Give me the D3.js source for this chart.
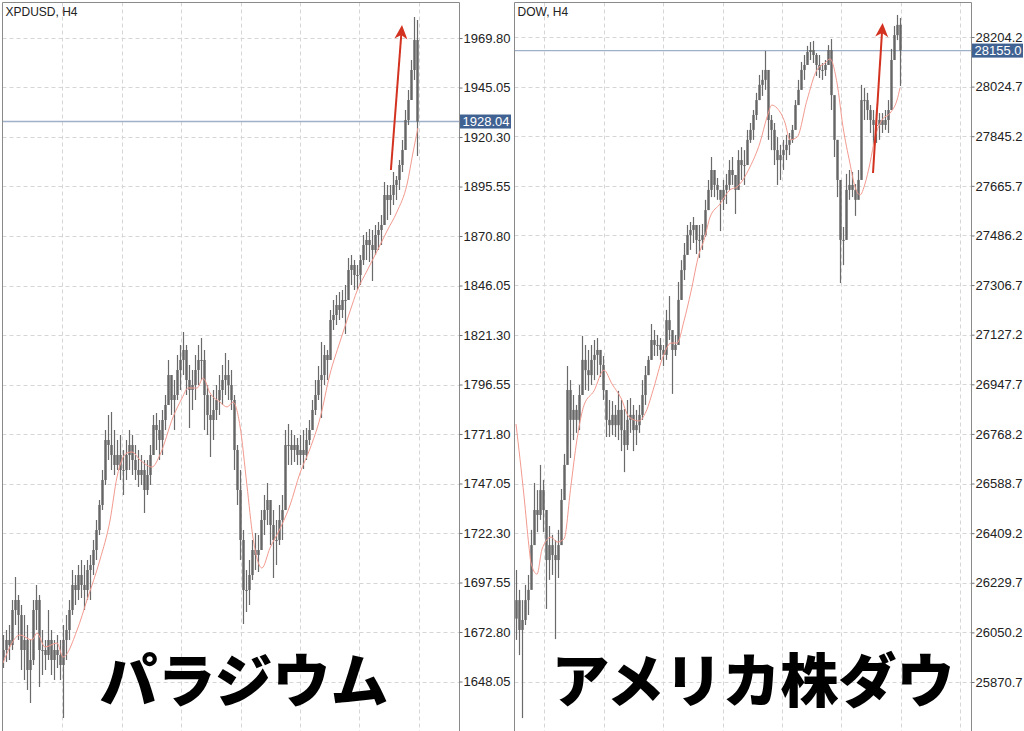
<!DOCTYPE html>
<html>
<head>
<meta charset="utf-8">
<script src="https://cdn.jsdelivr.net/npm/d3@7"></script>
<style>
    body { margin: 0; background: #fff; }
    svg { display: block; }
    .tick text { font-family: "Liberation Sans", Arial, sans-serif; font-size: 13px; fill: #222; }
    .tick line { stroke: #777; }
</style>
</head>
<body>
<svg id="chart" width="1024" height="731"></svg>
<script>
// XPDUSD H4
let leftTitle = "XPDUSD, H4"
let leftCaption = "パラジウム"
let leftTicks = [1969.80, 1945.05, 1920.30, 1895.55, 1870.80, 1846.05, 1821.30, 1796.55, 1771.80, 1747.05, 1722.30, 1697.55, 1672.80, 1648.05]
let leftBid = 1928.04
let leftOpen0 = 1660
let leftHigh = [1671.3, 1673.8, 1676.3, 1688.8, 1700.3, 1691.3, 1686.3, 1681.3, 1676.3, 1668.8,
    1688.8, 1696.3, 1691.3, 1673.8, 1668.8, 1683.8, 1673.8, 1668.8, 1671.3, 1668.8,
    1676.3, 1681.3, 1688.8, 1703.8, 1701.3, 1706.3, 1708.8, 1706.3, 1708.8, 1711.3,
    1718.8, 1728.8, 1738.8, 1753.8, 1773.8, 1781.3, 1782.8, 1773.8, 1768.8, 1771.3,
    1763.8, 1768.8, 1773.8, 1771.3, 1766.3, 1763.8, 1761.3, 1758.8, 1758.8, 1766.3,
    1781.3, 1782.3, 1778.8, 1783.8, 1791.3, 1808.8, 1801.3, 1798.8, 1811.3, 1816.3,
    1822.8, 1816.3, 1806.3, 1803.8, 1811.3, 1816.3, 1819.8, 1813.8, 1796.3, 1791.3,
    1793.8, 1796.3, 1801.3, 1806.3, 1812.3, 1808.8, 1803.8, 1791.3, 1766.3, 1753.8,
    1723.8, 1703.8, 1708.8, 1718.8, 1722.3, 1721.3, 1733.8, 1741.3, 1747.3, 1736.3,
    1733.8, 1728.8, 1736.3, 1741.3, 1773.8, 1776.8, 1773.8, 1771.3, 1769.8, 1771.3,
    1773.8, 1774.8, 1778.8, 1788.8, 1798.8, 1805.8, 1817.8, 1816.3, 1813.8, 1833.8,
    1838.8, 1841.3, 1842.8, 1843.8, 1846.3, 1859.8, 1861.3, 1858.8, 1856.3, 1861.3,
    1871.3, 1872.8, 1874.3, 1873.8, 1876.3, 1877.8, 1881.3, 1897.8, 1896.3, 1896.3,
    1902.8, 1900.8, 1908.8, 1918.8, 1933.8, 1943.8, 1958.8, 1980.3, 1978.8]
let leftLow = [1654.8, 1657.8, 1658.8, 1663.8, 1676.3, 1668.8, 1653.8, 1648.8, 1643.8, 1637.3,
    1656.3, 1673.8, 1645.3, 1651.3, 1653.8, 1658.8, 1651.3, 1648.8, 1654.8, 1648.8,
    1629.8, 1658.8, 1668.8, 1681.3, 1686.3, 1688.8, 1689.8, 1683.8, 1688.8, 1688.8,
    1701.3, 1708.8, 1721.3, 1733.8, 1746.3, 1758.8, 1753.8, 1751.3, 1753.8, 1748.8,
    1741.3, 1748.8, 1753.8, 1751.3, 1748.8, 1745.3, 1746.3, 1732.3, 1741.3, 1746.3,
    1761.3, 1763.8, 1758.8, 1761.3, 1773.8, 1786.3, 1781.3, 1773.8, 1788.8, 1793.8,
    1801.3, 1791.3, 1774.8, 1783.8, 1788.8, 1796.3, 1798.8, 1773.8, 1771.3, 1760.3,
    1768.8, 1778.8, 1781.3, 1786.3, 1791.3, 1788.8, 1783.8, 1753.8, 1736.3, 1708.8,
    1676.8, 1682.8, 1686.3, 1698.8, 1703.8, 1702.8, 1716.3, 1721.3, 1726.3, 1716.3,
    1699.8, 1706.3, 1716.3, 1718.8, 1733.8, 1756.3, 1756.3, 1757.8, 1756.3, 1756.3,
    1754.3, 1758.8, 1766.3, 1773.8, 1781.3, 1788.8, 1779.8, 1796.3, 1798.8, 1808.8,
    1823.8, 1826.3, 1828.8, 1829.8, 1821.8, 1841.3, 1846.3, 1843.8, 1843.8, 1846.3,
    1856.3, 1858.8, 1857.8, 1848.3, 1861.3, 1863.8, 1866.3, 1876.3, 1878.8, 1881.3,
    1886.3, 1888.8, 1893.8, 1902.8, 1913.8, 1926.3, 1938.8, 1948.8, 1910.8]
let leftClose = [1663.8, 1668.8, 1666.3, 1683.8, 1688.8, 1681.3, 1663.8, 1668.8, 1653.8, 1658.8,
    1683.8, 1688.8, 1663.8, 1663.8, 1661.3, 1668.8, 1658.8, 1663.8, 1661.3, 1656.3,
    1668.8, 1673.8, 1683.8, 1696.3, 1693.8, 1701.3, 1696.3, 1693.8, 1703.8, 1706.3,
    1713.8, 1723.8, 1736.3, 1748.8, 1768.8, 1766.3, 1761.3, 1756.3, 1761.3, 1753.8,
    1753.8, 1761.3, 1766.3, 1758.8, 1753.8, 1751.3, 1753.8, 1743.8, 1751.3, 1761.3,
    1776.3, 1773.8, 1768.8, 1778.8, 1786.3, 1801.3, 1788.8, 1791.3, 1803.8, 1808.8,
    1813.8, 1798.8, 1793.8, 1796.3, 1803.8, 1808.8, 1808.8, 1791.3, 1781.3, 1778.8,
    1783.8, 1788.8, 1793.8, 1798.8, 1801.3, 1796.3, 1788.8, 1763.8, 1743.8, 1718.8,
    1693.8, 1693.8, 1701.3, 1713.8, 1711.3, 1713.8, 1728.8, 1733.8, 1738.8, 1726.3,
    1718.8, 1718.8, 1728.8, 1733.8, 1766.3, 1766.3, 1763.8, 1766.3, 1761.3, 1763.8,
    1761.3, 1768.8, 1773.8, 1783.8, 1791.3, 1798.8, 1801.3, 1811.3, 1808.8, 1828.8,
    1831.3, 1836.3, 1833.8, 1838.8, 1838.8, 1853.8, 1856.3, 1851.3, 1851.3, 1858.8,
    1866.3, 1868.8, 1866.3, 1863.8, 1871.3, 1873.8, 1876.3, 1891.3, 1888.8, 1891.3,
    1896.3, 1898.8, 1906.3, 1913.8, 1928.8, 1938.8, 1953.8, 1968.8, 1928.04]
// moving average, read at candle positions
let leftMaAt = [0, 5.7, 9.7, 11.3, 14, 18, 20, 24.7, 28, 32.3, 35.7, 38, 41.3, 43, 45.7, 49.7, 52.3, 56.7, 59.7, 61.7,
    64.7, 66.7, 69, 72.3, 74.7, 76.7, 79, 81.3, 83.3, 86.3, 89, 92.3, 95.7, 99, 102.3, 105.7, 109, 112.3, 115.7, 118,
    121.3, 124.7, 128, 131.3, 134.7, 136.7, 138.3]
let leftMa = [1657.3, 1671.3, 1668.8, 1672.3, 1665.3, 1667.3, 1660.3, 1673.8, 1688.8, 1708.8, 1728.8, 1750.3, 1762.3, 1762.8, 1758.8, 1755.3, 1761.3, 1780.3, 1789.8, 1794.8,
    1794.8, 1799.8, 1792.3, 1787.8, 1785.3, 1787.8, 1775.8, 1746.3, 1720.3, 1704.8, 1714.8, 1724.3, 1736.3, 1752.3, 1764.3, 1779.8, 1801.8, 1817.8, 1833.3, 1843.3,
    1853.3, 1863.3, 1873.3, 1882.8, 1896.8, 1912.8, 1924.8]
let leftGridAt = [19.7, 39.5, 59.3, 79.2, 99, 118.8, 138.7]
let leftArrow = [[129.3, 1903.8], [133, 1976.3]]

// DOW H4
let rightTitle = "DOW, H4"
let rightCaption = "アメリカ株ダウ"
let rightTicks = [28204.2, 28024.7, 27845.2, 27665.7, 27486.2, 27306.7, 27127.2, 26947.7, 26768.2, 26588.7, 26409.2, 26229.7, 26050.2, 25870.7]
let rightBid = 28155.0
let rightOpen0 = 26100
let rightHigh = [26276, 26204, 26167, 26222, 26258, 26421, 26591, 26565, 26656, 26602,
    26493, 26435, 26403, 26384, 26421, 26569, 26696, 27014, 26963, 26909,
    26873, 26945, 27123, 27090, 27072, 27090, 27108, 27115, 27072, 27050,
    26898, 26891, 26887, 26873, 26924, 26891, 26858, 26891, 26898, 26873,
    26855, 26873, 26963, 27014, 27050, 27166, 27144, 27126, 27115, 27090,
    27217, 27267, 27126, 27126, 27318, 27397, 27459, 27524, 27535, 27553,
    27524, 27524, 27528, 27615, 27687, 27770, 27698, 27694, 27651, 27687,
    27709, 27759, 27770, 27705, 27795, 27806, 27795, 27868, 27893, 27940,
    28002, 28067, 28085, 28154, 27994, 27922, 27893, 27842, 27814, 27832,
    27850, 27857, 27886, 27976, 28049, 28114, 28139, 28172, 28186, 28190,
    28146, 28139, 28110, 28121, 28175, 28197, 27976, 27832, 27615, 27517,
    27709, 27723, 27716, 27672, 27723, 28031, 28020, 28002, 27958, 27940,
    27940, 27929, 27929, 27940, 27976, 28161, 28244, 28284, 28273]
let rightLow = [26023, 25968, 25740, 26077, 26113, 26240, 26403, 26413, 26457, 26413,
    26135, 26240, 26258, 26026, 26247, 26377, 26547, 26728, 26681, 26746,
    26772, 26782, 26909, 26927, 26924, 26945, 26963, 26981, 26974, 26891,
    26757, 26757, 26764, 26757, 26746, 26706, 26630, 26710, 26772, 26706,
    26728, 26772, 26819, 26873, 26981, 27036, 27050, 27050, 27036, 27014,
    27036, 27108, 26913, 27050, 27108, 27253, 27325, 27416, 27434, 27459,
    27419, 27405, 27434, 27481, 27578, 27625, 27625, 27615, 27502, 27578,
    27600, 27651, 27669, 27564, 27651, 27687, 27669, 27741, 27821, 27832,
    27904, 27976, 27991, 28013, 27832, 27795, 27741, 27669, 27687, 27723,
    27759, 27777, 27821, 27886, 27958, 28013, 28049, 28114, 28121, 28110,
    28063, 28056, 28049, 28063, 28103, 27940, 27770, 27625, 27314, 27379,
    27488, 27615, 27625, 27557, 27633, 27705, 27904, 27904, 27857, 27814,
    27821, 27832, 27857, 27868, 27857, 27976, 28139, 28193, 28027]
let rightClose = [26167, 26059, 26095, 26167, 26204, 26366, 26493, 26475, 26565, 26493,
    26312, 26366, 26330, 26312, 26366, 26529, 26656, 26927, 26819, 26855,
    26819, 26909, 27036, 26999, 26981, 27036, 27054, 27072, 27018, 26927,
    26819, 26800, 26837, 26800, 26855, 26782, 26728, 26819, 26837, 26782,
    26800, 26837, 26909, 26981, 27036, 27108, 27090, 27090, 27072, 27054,
    27180, 27144, 27072, 27090, 27253, 27361, 27416, 27488, 27506, 27524,
    27470, 27470, 27488, 27578, 27651, 27723, 27669, 27651, 27615, 27651,
    27669, 27723, 27705, 27651, 27759, 27741, 27741, 27832, 27868, 27922,
    27976, 28031, 28049, 28085, 27904, 27868, 27795, 27759, 27777, 27795,
    27814, 27832, 27868, 27958, 28013, 28085, 28103, 28150, 28157, 28139,
    28103, 28085, 28085, 28103, 28157, 27994, 27832, 27687, 27470, 27470,
    27651, 27669, 27651, 27615, 27687, 27976, 27976, 27940, 27904, 27886,
    27886, 27904, 27886, 27904, 27940, 28121, 28211, 28248, 28155]
let rightMaAt = [0, 2.7, 4.3, 5, 7, 8.7, 11.7, 13.7, 16, 18.3, 20.3, 22.7, 26, 29.3, 32, 35, 37.7, 41, 43.3, 46,
    48.7, 51.7, 53.7, 56, 58.3, 61, 62.7, 64.7, 68, 71.3, 73.7, 78, 81.3, 83.7, 85.3, 87, 89.7, 91.3, 93.7, 97,
    100.3, 103, 104.7, 107, 109, 111.3, 113, 114.7, 116.3, 118, 119.7, 122, 124.7, 127, 128]
let rightMa = [26804, 26540, 26363, 26301, 26261, 26352, 26395, 26377, 26388, 26580, 26746, 26873, 26924, 26999, 26949, 26898, 26829, 26815, 26848, 26938,
    27039, 27097, 27097, 27177, 27282, 27419, 27470, 27553, 27600, 27651, 27662, 27734, 27821, 27915, 27958, 27947, 27893, 27832, 27842, 27976,
    28085, 28110, 28125, 28038, 27879, 27748, 27662, 27633, 27672, 27748, 27842, 27904, 27929, 27976, 28020]
let rightGridAt = [9.3, 29.3, 49, 69, 88.7, 108.3, 128.3, 148]
let rightArrow = [[119, 27712], [122.2, 28255]]

let svg = d3.select('#chart')

function drawChart(cfg) {
    let g = svg.append('g')
    let n = cfg.high.length

    let x = d3.scaleLinear()
        .domain([0, n - 1])
        .range([cfg.x0, cfg.x1])
    let y = d3.scaleLinear()
        .domain([cfg.ticks[cfg.ticks.length - 1], cfg.ticks[0]])
        .range([cfg.yBottom, cfg.yTop])

    // grid
    g.append('g')
        .selectAll('line')
        .data(cfg.ticks)
        .enter()
        .append('line')
        .attr('x1', cfg.left)
        .attr('x2', cfg.axis)
        .attr('y1', d => Math.round(y(d)) + 0.5)
        .attr('y2', d => Math.round(y(d)) + 0.5)
        .attr('stroke', '#d6d6d6')
        .attr('stroke-dasharray', '4,3')
    g.append('g')
        .selectAll('line')
        .data(cfg.gridAt)
        .enter()
        .append('line')
        .attr('x1', d => Math.round(x(d)) + 0.5)
        .attr('x2', d => Math.round(x(d)) + 0.5)
        .attr('y1', cfg.top)
        .attr('y2', 731)
        .attr('stroke', '#d6d6d6')
        .attr('stroke-dasharray', '4,3')

    // bid line
    g.append('line')
        .attr('x1', cfg.left)
        .attr('x2', cfg.axis)
        .attr('y1', y(cfg.bid))
        .attr('y2', y(cfg.bid))
        .attr('stroke', '#9fb1c8')
        .attr('stroke-width', 1.3)

    // candles
    let opens = [cfg.open0].concat(cfg.close.slice(0, n - 1))
    let candles = g.append('g')
    candles.selectAll('line')
        .data(cfg.high)
        .enter()
        .append('line')
        .attr('x1', (d, i) => Math.round(x(i)) + 0.5)
        .attr('x2', (d, i) => Math.round(x(i)) + 0.5)
        .attr('y1', d => y(d))
        .attr('y2', (d, i) => y(cfg.low[i]))
        .attr('stroke', '#6a6a6a')
        .attr('stroke-width', 1.2)
    candles.selectAll('rect')
        .data(cfg.close)
        .enter()
        .append('rect')
        .attr('x', (d, i) => Math.round(x(i)) - 0.7)
        .attr('y', (d, i) => y(Math.max(d, opens[i])))
        .attr('width', 2.4)
        .attr('height', (d, i) => Math.max(1, Math.abs(y(d) - y(opens[i]))))
        .attr('fill', '#666')

    // moving average
    let maLine = d3.line()
        .x((d, i) => x(cfg.maAt[i]))
        .y(d => y(d))
        .curve(d3.curveMonotoneX)
    g.append('path')
        .attr('d', maLine(cfg.ma))
        .attr('fill', 'none')
        .attr('stroke', '#f39a8f')
        .attr('stroke-width', 1)

    // arrow
    let ax0 = x(cfg.arrow[0][0]), ay0 = y(cfg.arrow[0][1])
    let ax1 = x(cfg.arrow[1][0]), ay1 = y(cfg.arrow[1][1])
    let ang = Math.atan2(ay1 - ay0, ax1 - ax0)
    let headLen = 14, headW = 6.5
    let bx = ax1 - headLen * Math.cos(ang), by = ay1 - headLen * Math.sin(ang)
    let nx = ax1 - (headLen - 4) * Math.cos(ang), ny = ay1 - (headLen - 4) * Math.sin(ang)
    let px = -Math.sin(ang), py = Math.cos(ang)
    g.append('line')
        .attr('x1', ax0)
        .attr('y1', ay0)
        .attr('x2', nx)
        .attr('y2', ny)
        .attr('stroke', '#d2321f')
        .attr('stroke-width', 2)
    g.append('path')
        .attr('d', `M${ax1},${ay1} L${bx + px * headW},${by + py * headW} L${nx},${ny} L${bx - px * headW},${by - py * headW} Z`)
        .attr('fill', '#d2321f')

    // frame
    g.append('path')
        .attr('d', `M${cfg.left},731 V${cfg.top} H${cfg.axis} V731`)
        .attr('fill', 'none')
        .attr('stroke', '#8a8a8a')
        .attr('stroke-width', 1)

    let axis = d3.axisRight(y)
        .tickValues(cfg.ticks)
        .tickSize(3)
        .tickPadding(1)
        .tickFormat(d3.format(cfg.fmt))
    g.append('g')
        .attr('transform', `translate(${cfg.axis}, 0)`)
        .call(axis)
        .call(a => a.select('.domain').remove())

    // bid label
    g.append('rect')
        .attr('x', cfg.axis + 0.5)
        .attr('y', y(cfg.bid) - 7)
        .attr('width', 51)
        .attr('height', 14)
        .attr('fill', '#3f6292')
    g.append('text')
        .attr('x', cfg.axis + 3)
        .attr('y', y(cfg.bid))
        .attr('dy', '0.36em')
        .attr('font-family', '"Liberation Sans", Arial, sans-serif')
        .attr('font-size', '13px')
        .attr('fill', '#fff')
        .text(d3.format(cfg.fmt)(cfg.bid))

    g.append('text')
        .attr('x', cfg.left + 3)
        .attr('y', 16)
        .attr('font-family', '"Liberation Sans", Arial, sans-serif')
        .attr('font-size', '12px')
        .attr('fill', '#222')
        .text(cfg.title)

    g.append('text')
        .attr('x', cfg.capX)
        .attr('y', 702)
        .attr('text-anchor', 'middle')
        .attr('font-family', '"Noto Sans CJK JP", sans-serif')
        .attr('font-weight', 900)
        .attr('font-size', '58px')
        .attr('fill', '#000')
        .text(cfg.caption)
}

drawChart({
    title: leftTitle, caption: leftCaption, ticks: leftTicks, bid: leftBid, fmt: '.2f',
    open0: leftOpen0, high: leftHigh, low: leftLow, close: leftClose,
    maAt: leftMaAt, ma: leftMa, gridAt: leftGridAt, arrow: leftArrow,
    left: 2.5, top: 2.5, axis: 459.5, x0: 3, x1: 417, yTop: 38, yBottom: 681.5, capX: 244
})
drawChart({
    title: rightTitle, caption: rightCaption, ticks: rightTicks, bid: rightBid, fmt: '.1f',
    open0: rightOpen0, high: rightHigh, low: rightLow, close: rightClose,
    maAt: rightMaAt, ma: rightMa, gridAt: rightGridAt, arrow: rightArrow,
    left: 514.5, top: 2.5, axis: 971.5, x0: 516, x1: 900, yTop: 37, yBottom: 682, capX: 753
})
</script>
</body>
</html>
